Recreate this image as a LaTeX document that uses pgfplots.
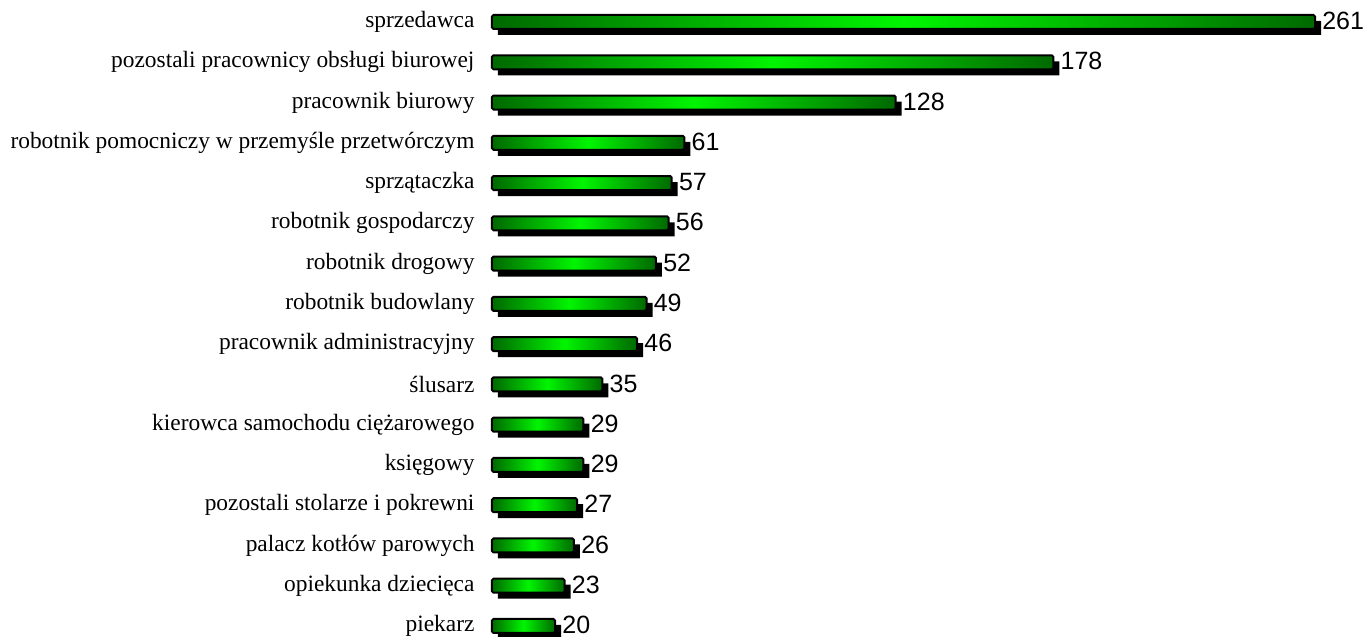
\documentclass[border=0pt]{standalone}
\usepackage{fontspec}
\setmainfont{Liberation Serif}
\newfontfamily\arial{Liberation Sans}
\usepackage{pgfplots}
\pgfplotsset{compat=1.18}
\definecolor{gdark}{RGB}{0,105,0}
\definecolor{glight}{RGB}{0,245,0}
\begin{document}
\begin{tikzpicture}
\path[use as bounding box] (0,0) rectangle (1368pt,637pt);
\begin{axis}[
    at={(492pt,11pt)}, anchor=origin,
    scale only axis, width=823pt, height=604pt,
    xmin=0, xmax=261, ymin=0, ymax=15,
    enlargelimits=false, clip=false,
    xbar, bar width=14pt,
    axis line style={draw=none}, xtick=\empty,
    ytick={0,...,15}, major tick length=0pt,
    yticklabels={piekarz,opiekunka dziecięca,palacz kotłów parowych,pozostali stolarze i pokrewni,księgowy,kierowca samochodu ciężarowego,ślusarz,pracownik administracyjny,robotnik budowlany,robotnik drogowy,robotnik gospodarczy,sprzątaczka,robotnik pomocniczy w przemyśle przetwórczym,pracownik biurowy,pozostali pracownicy obsługi biurowej,sprzedawca},
    yticklabel style={font=\fontsize{23.4}{26}\selectfont, xshift=-14pt},
    /pgf/number format/assume math mode=true,
    gbar/.style={draw=black, line width=2pt, rounded corners=1.5pt,
        left color=gdark, right color=gdark, middle color=glight, bar shift=0pt,
        nodes near coords,
        every node near coord/.append style={anchor=west, font=\arial\fontsize{25}{27}\selectfont, xshift=3pt, yshift=1pt, text=black}},
]
\addplot[fill=black, draw=none, bar shift=-6pt, xshift=6pt] coordinates {
(20,0) (23,1) (26,2) (27,3) (29,4) (29,5) (35,6) (46,7) (49,8) (52,9) (56,10) (57,11) (61,12) (128,13) (178,14) (261,15)};
\addplot[gbar] coordinates {(20,0)};
\addplot[gbar] coordinates {(23,1)};
\addplot[gbar] coordinates {(26,2)};
\addplot[gbar] coordinates {(27,3)};
\addplot[gbar] coordinates {(29,4)};
\addplot[gbar] coordinates {(29,5)};
\addplot[gbar] coordinates {(35,6)};
\addplot[gbar] coordinates {(46,7)};
\addplot[gbar] coordinates {(49,8)};
\addplot[gbar] coordinates {(52,9)};
\addplot[gbar] coordinates {(56,10)};
\addplot[gbar] coordinates {(57,11)};
\addplot[gbar] coordinates {(61,12)};
\addplot[gbar] coordinates {(128,13)};
\addplot[gbar] coordinates {(178,14)};
\addplot[gbar] coordinates {(261,15)};
\end{axis}
\end{tikzpicture}
\end{document}
